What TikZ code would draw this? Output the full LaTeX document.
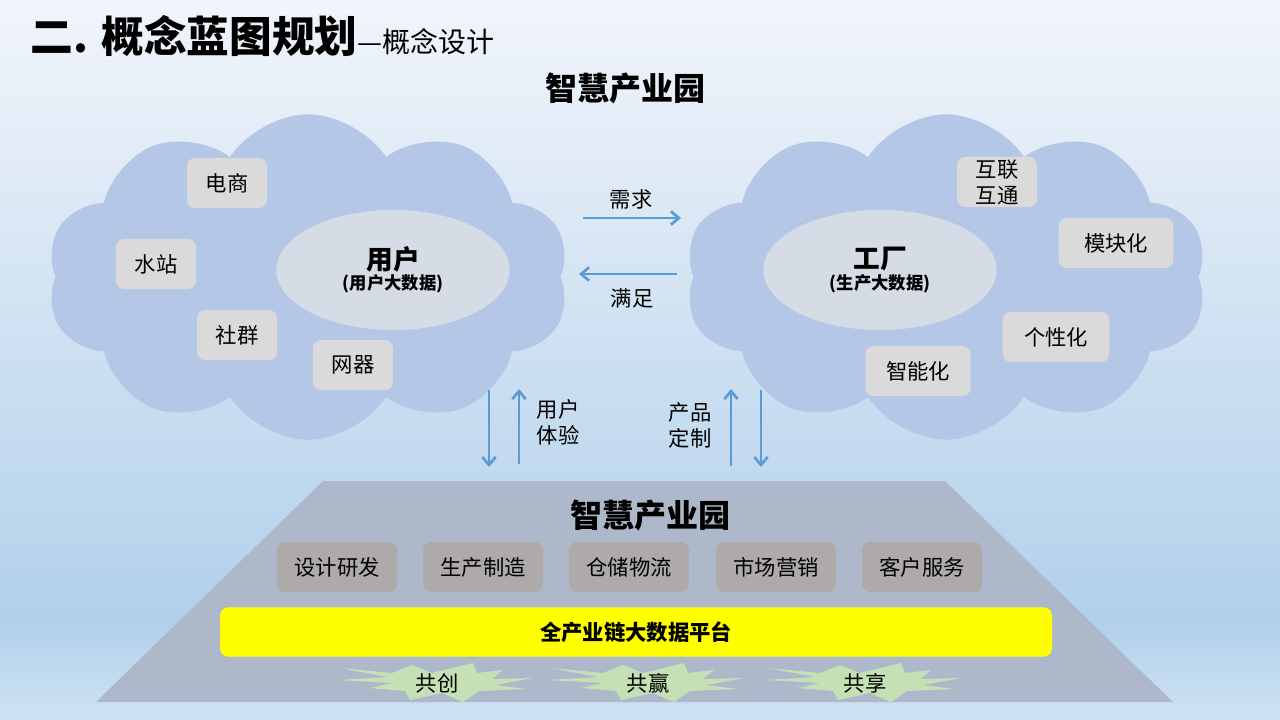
\documentclass[tikz,border=0pt]{standalone}
\usepackage{fontspec}
\setmainfont{Noto Sans CJK SC}
\usetikzlibrary{shapes.symbols, shapes.geometric, arrows.meta, positioning}

\definecolor{bgtop}{RGB}{241,245,251}
\definecolor{bgmid}{RGB}{178,208,234}
\definecolor{bgbot}{RGB}{206,226,243}
\definecolor{cloudblue}{RGB}{180,199,231}
\definecolor{coregray}{RGB}{214,220,229}
\definecolor{taggray}{RGB}{218,218,218}
\definecolor{deptgray}{RGB}{174,170,170}
\definecolor{platgray}{RGB}{173,185,202}
\definecolor{flowblue}{RGB}{91,155,213}
\definecolor{burstgreen}{RGB}{197,224,180}
\definecolor{platyellow}{RGB}{255,255,0}

\begin{document}
\begin{tikzpicture}[x=0.75pt,y=-0.75pt,>={Straight Barb[length=6pt,width=10pt]},
	cloudbg/.style={cloud, cloud puffs=10, cloud puff arc=115, aspect=1.6, fill=cloudblue, inner sep=0pt, minimum width=392pt, minimum height=244pt},
	core/.style={ellipse, fill=coregray, inner sep=0pt, minimum width=175pt, minimum height=90pt, align=center},
	tag/.style={rectangle, rounded corners=6pt, fill=taggray, inner sep=0pt, minimum width=60pt, minimum height=37.5pt, align=center, font=\fontsize{16}{19.5}\selectfont},
	dept/.style={tag, fill=deptgray, minimum width=90pt},
	lbl/.style={align=center, font=\fontsize{16}{19.5}\selectfont},
	flow/.style={->, draw=flowblue, line width=2pt},
	burst/.pic={\fill[burstgreen] (-97,-15) -- (-45,-10) -- (-25,-18) -- (-5,-10) -- (36,-20) -- (40,-10) -- (66,-13) -- (55,-4) -- (96,-5) -- (58,2) -- (90,6) -- (42,8) -- (26,19) -- (5,10) -- (-27,17) -- (-32,8) -- (-67,5) -- (-45,0) -- (-99,-3) -- (-50,-6) -- cycle;}]
		% background
		\useasboundingbox (0,0) rectangle (1280,720);
		\shade[top color=bgtop, bottom color=bgmid] (0,0) rectangle (1280,620);
		\shade[top color=bgmid, bottom color=bgbot] (0,620) rectangle (1280,720);

		\node[anchor=west									] (TITLE) 		at (26,36)	{\bfseries\fontsize{32}{38}\selectfont 二. 概念蓝图规划\fontsize{21}{25}\selectfont\mdseries —概念设计};
		\node[font=\bfseries\fontsize{24}{28}\selectfont	] (PARK_TOP) 	at (625,88)	{智慧产业园};

		% clouds
		\node[cloudbg										] (USER_CLOUD) 	at (308,277) 	{};
		\node[cloudbg										] (FACT_CLOUD) 	at (946,277) 	{};
		\node[core											] (USER) 		at (393,270) 	{{\bfseries\fontsize{20}{24}\selectfont 用户}\\[1pt]{\bfseries\fontsize{13}{16}\selectfont (用户大数据)}};
		\node[core											] (FACTORY) 	at (880,270) 	{{\bfseries\fontsize{20}{24}\selectfont 工厂}\\[1pt]{\bfseries\fontsize{13}{16}\selectfont (生产大数据)}};

		\node[tag											] (EC) 			at (227,183) 	{电商};
		\node[tag											] (WATER) 		at (156,264) 	{水站};
		\node[tag											] (GROUP) 		at (237,335) 	{社群};
		\node[tag											] (DEVICE) 		at (353,365) 	{网器};

		\node[tag											] (LINK) 		at (997,182) 	{互联\\互通};
		\node[tag, minimum width=86pt						] (MODULAR) 	at (1116,243) 	{模块化};
		\node[tag, minimum width=80pt						] (CUSTOM) 		at (1056,337) 	{个性化};
		\node[tag, minimum width=79pt						] (SMART) 		at (918,371) 	{智能化};

		% flows between clouds
		\coordinate (NEED_A) at (583,218);	\coordinate (NEED_B) at (681,218);
		\coordinate (MEET_A) at (677,274);	\coordinate (MEET_B) at (579,274);
		\node[lbl											] (NEED) 		at (631,199) 	{需求};
		\node[lbl											] (MEET) 		at (632,298) 	{满足};
		\draw[flow] (NEED_A) -- (NEED_B);
		\draw[flow] (MEET_A) -- (MEET_B);

		% flows to the park
		\coordinate (UX_A) at (489,390);	\coordinate (UX_B) at (489,467);
		\coordinate (UX_C) at (519,464);	\coordinate (UX_D) at (519,389);
		\coordinate (PC_A) at (731,466);	\coordinate (PC_B) at (731,389);
		\coordinate (PC_C) at (761,390);	\coordinate (PC_D) at (761,467);
		\node[lbl											] (UX) 			at (558,422) 	{用户\\体验};
		\node[lbl											] (PC) 			at (690,425) 	{产品\\定制};
		\draw[flow] (UX_A) -- (UX_B);
		\draw[flow] (UX_C) -- (UX_D);
		\draw[flow] (PC_A) -- (PC_B);
		\draw[flow] (PC_C) -- (PC_D);

		% park platform
		\fill[platgray] (323,481) -- (945,481) -- (1173,702) -- (96,702) -- cycle;
		\node[font=\bfseries\fontsize{24}{28}\selectfont	] (PARK) 		at (650,515) 	{智慧产业园};
		\node[dept											] (DESIGN) 		at (337,567) 	{设计研发};
		\node[dept											] (PRODUCE) 	at (483,567) 	{生产制造};
		\node[dept											] (STORE) 		at (629,567) 	{仓储物流};
		\node[dept											] (MARKET) 		at (776,567) 	{市场营销};
		\node[dept											] (SERVICE) 	at (922,567) 	{客户服务};
		\node[tag, fill=platyellow, minimum width=624pt, minimum height=37pt, font=\bfseries\fontsize{16}{19.5}\selectfont] (PLATFORM) at (636,632) {全产业链大数据平台};

		\pic at (437,683) {burst};
		\pic at (648,683) {burst};
		\pic at (865,683) {burst};
		\node[lbl											] (CO_CREATE) 	at (437,683) 	{共创};
		\node[lbl											] (CO_WIN) 		at (648,683) 	{共赢};
		\node[lbl											] (CO_SHARE) 	at (865,683) 	{共享};
	\end{tikzpicture}
\end{document}
